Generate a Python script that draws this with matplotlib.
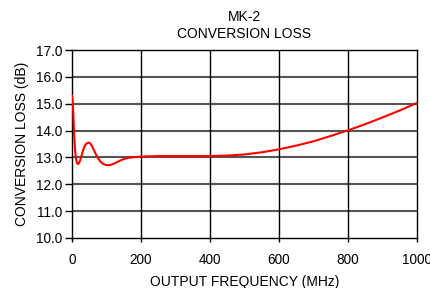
import matplotlib
matplotlib.use("Agg")
import matplotlib.pyplot as plt
import numpy as np

plt.rcParams['font.family'] = ['Liberation Sans', 'DejaVu Sans']

# Data
freq_mhz = [0, 2, 4, 6, 8, 11, 14, 17, 20, 24, 28, 33, 38, 43, 48, 52, 57, 62,
            68, 75, 82, 90, 98, 106, 114, 124, 136, 150, 165, 180, 200, 250,
            300, 350, 400, 450, 500, 550, 600, 650, 700, 750, 800, 850, 900,
            950, 1000]
loss_db = [15.3, 15.1, 14.6, 13.95, 13.45, 13.0, 12.8, 12.75, 12.78, 12.9,
           13.08, 13.3, 13.45, 13.53, 13.55, 13.53, 13.45, 13.32, 13.15, 12.98,
           12.85, 12.76, 12.72, 12.71, 12.73, 12.78, 12.86, 12.94, 12.99, 13.01,
           13.03, 13.05, 13.05, 13.05, 13.05, 13.07, 13.11, 13.19, 13.3, 13.44,
           13.6, 13.8, 14.01, 14.24, 14.49, 14.75, 15.03]

x_ticks = [0, 200, 400, 600, 800, 1000]
y_ticks = [10.0, 11.0, 12.0, 13.0, 14.0, 15.0, 16.0, 17.0]

fig = plt.figure(figsize=(4.31, 2.88), dpi=100)
ax = fig.add_axes([0.167, 0.174, 0.8005, 0.652])

ax.plot(freq_mhz, loss_db, color='red', lw=1.5, zorder=3)

ax.set_xlim(0, 1000)
ax.set_ylim(10, 17)
ax.set_xticks(x_ticks)
ax.set_yticks(y_ticks)
ax.set_yticklabels([f"{v:.1f}" for v in y_ticks])

for y in y_ticks[1:-1]:
    ax.axhline(y, color='#555555', lw=1.5, zorder=1)
for x in x_ticks[1:-1]:
    ax.axvline(x, color='black', lw=1.0, zorder=1)

for s in ax.spines.values():
    s.set_color('black')
    s.set_linewidth(1.0)

ax.tick_params(direction='out', length=4, width=1, labelsize=9.8, colors='black')
ax.tick_params(axis='x', pad=8, length=3)
ax.tick_params(axis='y', pad=2, length=5)

ax.set_xlabel("OUTPUT FREQUENCY (MHz)", fontsize=10, labelpad=6)
ax.set_ylabel("CONVERSION LOSS (dB)", fontsize=10, labelpad=5)
ax.set_title("MK-2\nCONVERSION LOSS", fontsize=10, linespacing=1.2, pad=9)

fig.savefig("out.png", dpi=100)
